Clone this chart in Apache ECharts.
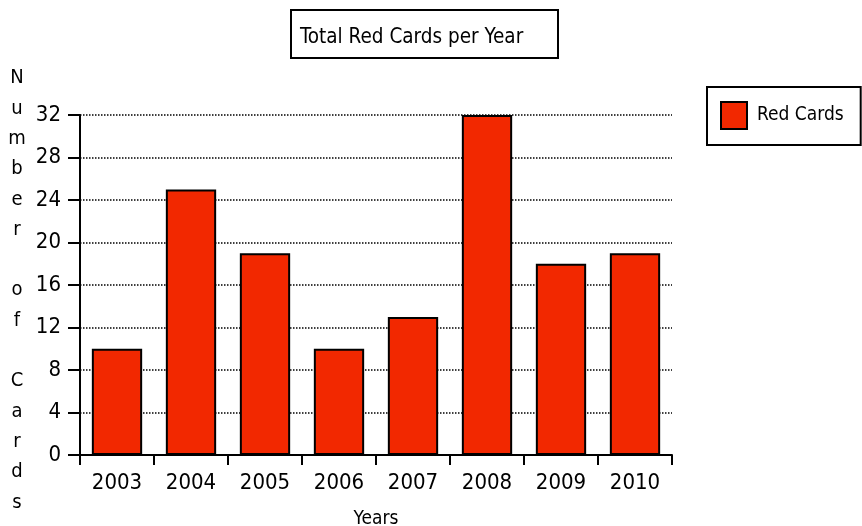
<!DOCTYPE html>
<html>
<head>
<meta charset="utf-8">
<script src="https://cdn.jsdelivr.net/npm/echarts@6/dist/echarts.min.js"></script>
<style>
html,body{margin:0;padding:0;background:#fff;}
#chart{width:862px;height:526px;}
</style>
</head>
<body>
<div id="chart"></div>
<script>
var years = ['2003','2004','2005','2006','2007','2008','2009','2010'];
var redCards = [10, 25, 19, 10, 13, 32, 18, 19];
var seriesName = 'Red Cards';
var chartTitle = 'Total Red Cards per Year';
var xAxisName = 'Years';
var yAxisName = 'Number of Cards';

var FONT = "'DejaVu Sans Condensed','Liberation Sans Narrow','DejaVu Sans',sans-serif";
var chart = echarts.init(document.getElementById('chart'));

var yNameStacked = yAxisName.split('').join('\n');

chart.setOption({
  backgroundColor: '#ffffff',
  animation: false,
  textStyle: {fontFamily: FONT, color: '#000'},
  grid: {left: 80, right: 190, top: 115, bottom: 71, containLabel: false, outerBoundsMode: 'none'},
  legend: {
    data: [seriesName],
    left: 707, top: 87,
    orient: 'vertical',
    icon: 'rect',
    itemWidth: 26, itemHeight: 27,
    borderColor: '#000', borderWidth: 2,
    padding: [14, 17, 15, 13],
    textStyle: {fontFamily: FONT, fontSize: 19, color: '#000', padding: [0,0,0,5]}
  },
  xAxis: {
    type: 'category',
    data: years,
    name: xAxisName,
    nameLocation: 'middle',
    nameGap: 55,
    nameTextStyle: {fontFamily: FONT, fontSize: 19, color: '#000'},
    axisLine: {lineStyle: {color: '#000', width: 2}},
    axisTick: {show: true, length: 10, lineStyle: {color: '#000', width: 2}},
    axisLabel: {fontFamily: FONT, fontSize: 22, color: '#000', margin: 17}
  },
  yAxis: {
    type: 'value',
    min: 0, max: 32, interval: 4,
    axisLine: {show: true, lineStyle: {color: '#000', width: 2}},
    axisTick: {show: true, length: 12, lineStyle: {color: '#000', width: 2}},
    axisLabel: {fontFamily: FONT, fontSize: 22, color: '#000', margin: 19},
    splitLine: {show: true, lineStyle: {color: '#000', width: 1.5, type: [1.5, 1.5]}}
  },
  series: [{
    name: seriesName,
    type: 'bar',
    data: redCards,
    barWidth: '68%',
    itemStyle: {color: '#f22800', borderColor: '#000', borderWidth: 2}
  }],
  graphic: [
    {
      type: 'rect',
      shape: {x: 291, y: 10, width: 267, height: 48},
      style: {fill: '#fff', stroke: '#000', lineWidth: 2},
      z: 10
    },
    {
      type: 'text',
      x: 300, y: 38,
      style: {text: chartTitle, font: '20.5px ' + FONT, fill: '#000', textAlign: 'left', textVerticalAlign: 'middle'},
      z: 11
    },
    {
      type: 'text',
      x: 17, y: 63,
      style: {text: yNameStacked, font: '20px ' + FONT, fill: '#000', textAlign: 'center', textVerticalAlign: 'top', lineHeight: 30.3},
      z: 11
    }
  ]
});
</script>
</body>
</html>
